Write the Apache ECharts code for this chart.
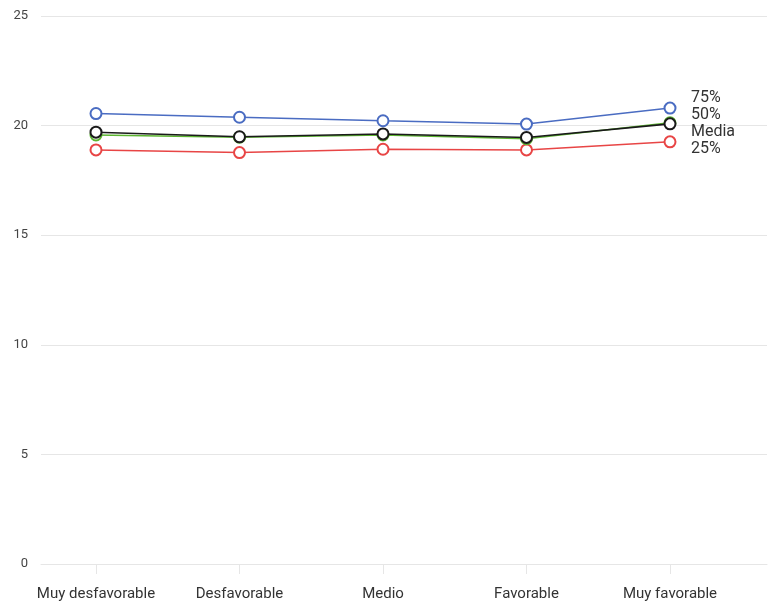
<!DOCTYPE html>
<html><head><meta charset="utf-8">
<script src="https://cdn.jsdelivr.net/npm/echarts@6/dist/echarts.min.js"></script>
<style>html,body{margin:0;padding:0;background:#fff}#c{width:768px;height:602px}</style>
</head><body><div id="c"></div>
<script>
var categories = ['Muy desfavorable', 'Desfavorable', 'Medio', 'Favorable', 'Muy favorable'];
var p75 = [20.55, 20.38, 20.22, 20.07, 20.80];
var p50 = [19.70, 19.49, 19.62, 19.46, 20.08];
var media = [19.57, 19.47, 19.57, 19.40, 20.13];
var p25 = [18.89, 18.77, 18.92, 18.89, 19.26];
var yTicks = [0, 5, 10, 15, 20, 25];

var font = 'Roboto';
function mk(name, data, color, z) {
  return {
    name: name, type: 'line', data: data, xAxisIndex: 1, yAxisIndex: 1, z: z,
    symbol: 'circle', symbolSize: 11, showSymbol: true,
    lineStyle: { color: color, width: 1.6 },
    itemStyle: { color: '#fff', borderColor: color, borderWidth: 2 },
    emphasis: { disabled: true }, animation: false
  };
}
var chart = echarts.init(document.getElementById('c'), null, { renderer: 'canvas' });
chart.setOption({
  animation: false,
  textStyle: { fontFamily: font },
  grid: [
    { left: 41, right: 1, top: 16, bottom: 38 },
    { left: 96, right: 98, top: 16, bottom: 38 }
  ],
  legend: {
    orient: 'vertical', left: 686, top: 89, padding: 0, itemGap: 0,
    itemWidth: 0, itemHeight: 0, icon: 'none', selectedMode: false,
    data: ['75%', '50%', 'Media', '25%'],
    textStyle: { fontFamily: font, fontSize: 16, color: '#333', lineHeight: 17 }
  },
  xAxis: [
    { type: 'category', gridIndex: 0, data: categories, boundaryGap: false,
      axisLine: { show: true, lineStyle: { color: '#e6e6e6' } }, axisTick: { show: false },
      axisLabel: { show: false }, splitLine: { show: false } },
    { type: 'category', gridIndex: 1, data: categories, boundaryGap: false,
      axisLine: { show: false },
      axisTick: { show: true, length: 10, interval: 0, lineStyle: { color: '#e6e6e6' } },
      axisLabel: { interval: 0, hideOverlap: false, margin: 23, fontSize: 15, color: '#333', fontFamily: font },
      splitLine: { show: false } }
  ],
  yAxis: [
    { type: 'value', gridIndex: 0, min: yTicks[0], max: yTicks[yTicks.length - 1], interval: 5,
      axisLine: { show: false }, axisTick: { show: false },
      axisLabel: { margin: 13, fontSize: 13, color: '#444', fontFamily: font },
      splitLine: { lineStyle: { color: '#e6e6e6' } } },
    { type: 'value', gridIndex: 1, min: yTicks[0], max: yTicks[yTicks.length - 1], interval: 5,
      show: false }
  ],
  series: [
    mk('25%', p25, '#e84545', 2),
    mk('Media', media, '#5cb531', 3),
    mk('50%', p50, '#1a1a1a', 4),
    mk('75%', p75, '#4a6cc2', 5)
  ]
});
</script></body></html>
